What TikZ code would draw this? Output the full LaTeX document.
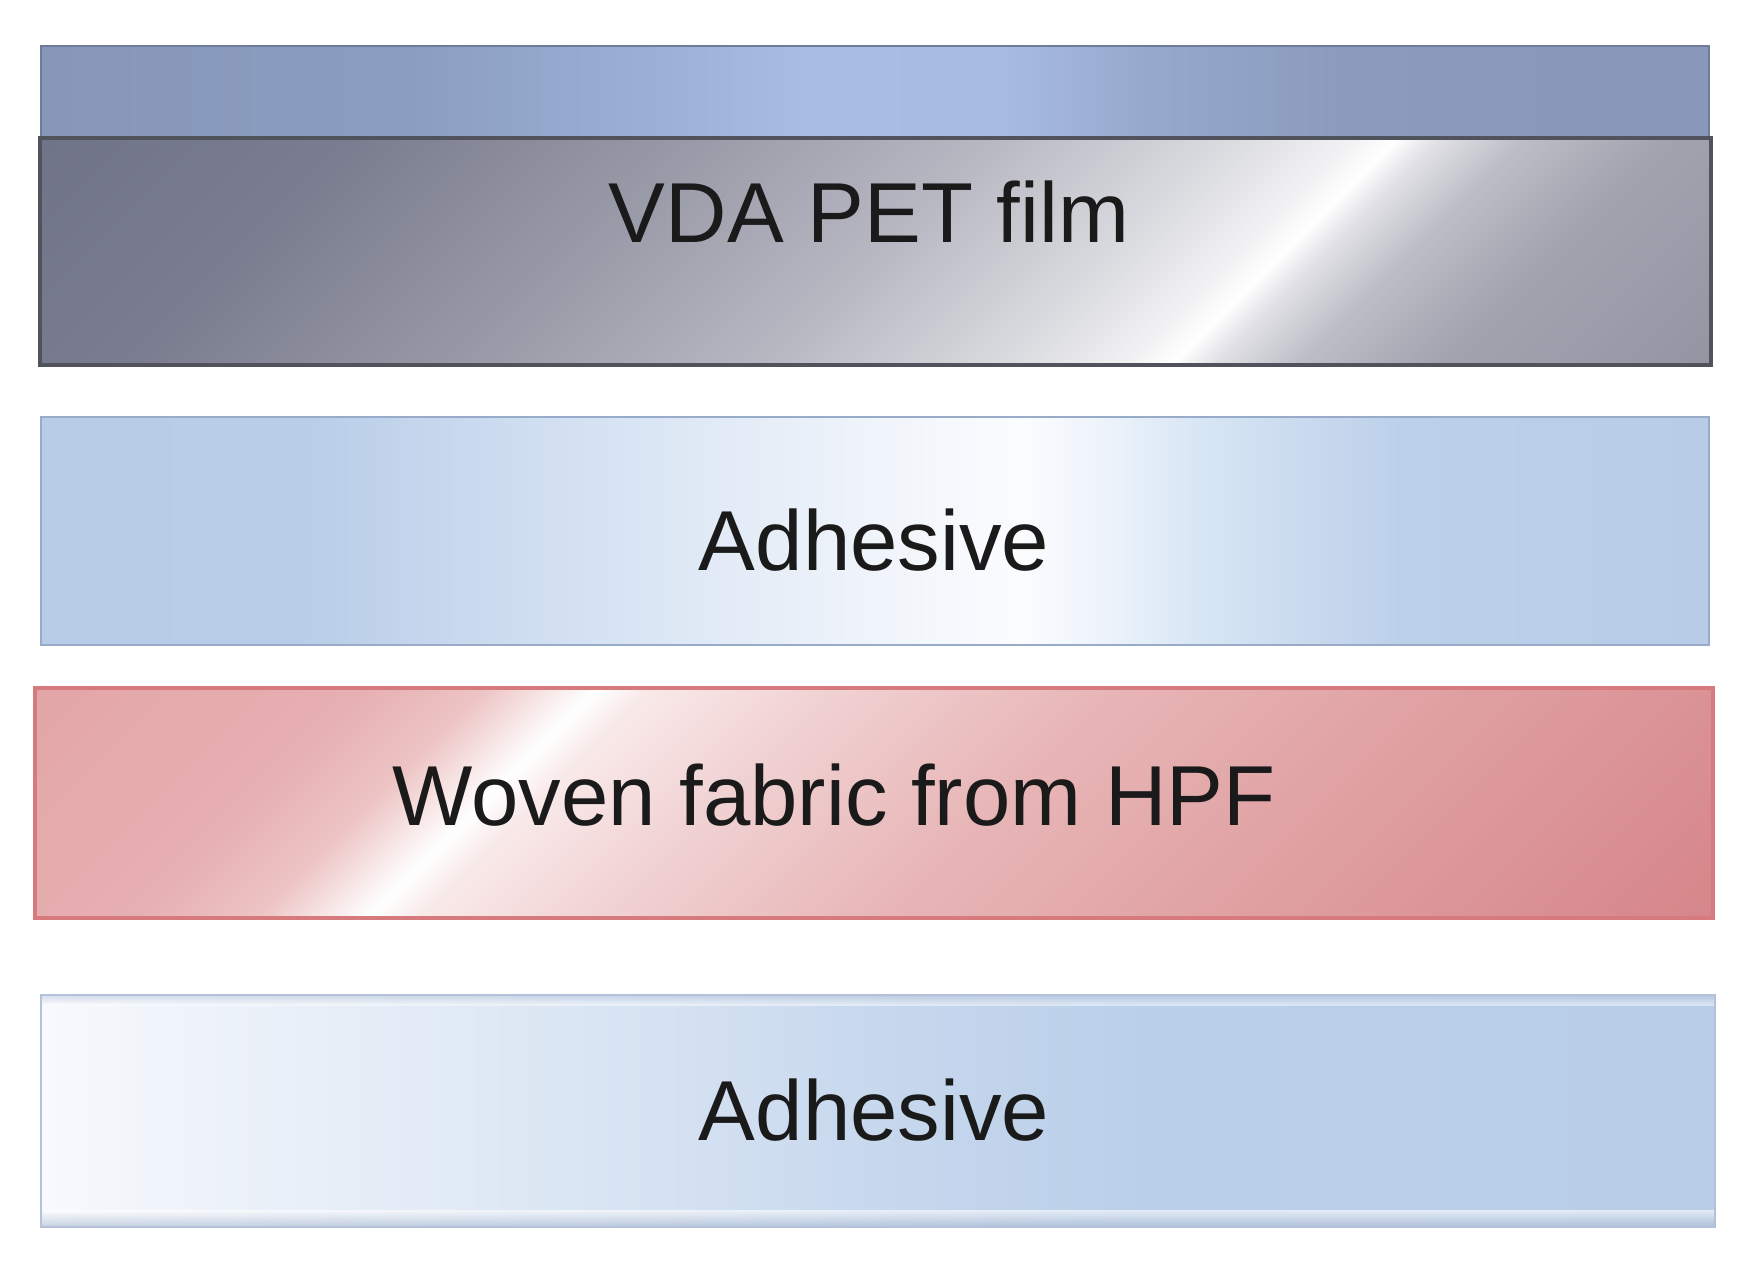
\documentclass[tikz,border=0pt]{standalone}
\usepackage{fontspec}
\setmainfont{Liberation Sans}
% film colours
\definecolor{fA}{HTML}{707488}
\definecolor{fB}{HTML}{7A7D8F}
\definecolor{fC}{HTML}{9A9BA8}
\definecolor{fD}{HTML}{B6B7C1}
\definecolor{fE}{HTML}{DCDDE1}
\definecolor{fF}{HTML}{F2F2F4}
\definecolor{fG}{HTML}{E0E0E6}
\definecolor{fH}{HTML}{BDBDC6}
\definecolor{fI}{HTML}{A3A3B0}
\definecolor{fJ}{HTML}{9494A3}
% band colours
\definecolor{bA}{HTML}{8797BA}
\definecolor{bB}{HTML}{8A9DC0}
\definecolor{bC}{HTML}{9BB0D6}
\definecolor{bD}{HTML}{A9BCE3}
\definecolor{bE}{HTML}{A8BBE2}
\definecolor{bF}{HTML}{96A8CC}
\definecolor{bG}{HTML}{8A9BBD}
\definecolor{bH}{HTML}{8898BA}
% adhesive colours
\definecolor{aA}{HTML}{B8CCE7}
\definecolor{aB}{HTML}{B9CDE8}
\definecolor{aC}{HTML}{D6E3F3}
\definecolor{aD}{HTML}{EEF3FA}
\definecolor{aE}{HTML}{FBFCFE}
\definecolor{aF}{HTML}{EEF4FB}
\definecolor{aG}{HTML}{D8E6F4}
\definecolor{aH}{HTML}{BDD0EA}
\definecolor{cA}{HTML}{F7F9FD}
\definecolor{cB}{HTML}{EEF3FA}
\definecolor{cC}{HTML}{D9E5F3}
\definecolor{cD}{HTML}{C6D7ED}
\definecolor{cE}{HTML}{BACFE9}
% fabric colours
\definecolor{rA}{HTML}{E3A6A8}
\definecolor{rB}{HTML}{E6AFB1}
\definecolor{rC}{HTML}{EDC3C4}
\definecolor{rD}{HTML}{FBF0F0}
\definecolor{rE}{HTML}{F9E9E9}
\definecolor{rF}{HTML}{F1D3D4}
\definecolor{rG}{HTML}{E8B6B7}
\definecolor{rH}{HTML}{DF9FA1}
\definecolor{rI}{HTML}{D6868A}
% borders and text
\definecolor{bandline}{HTML}{6E7C9A}
\definecolor{filmline}{HTML}{50535C}
\definecolor{adhline}{HTML}{98ABC8}
\definecolor{adhlineB}{HTML}{B3C2D9}
\definecolor{adhbot}{HTML}{A6B6D0}
\definecolor{fabline}{HTML}{D67A7D}
\definecolor{txt}{HTML}{1A1A1A}

\pgfdeclarehorizontalshading{filmshade}{100bp}{color(0bp)=(fA); color(29.9bp)=(fA); color(36.5bp)=(fB); color(44bp)=(fC); color(50bp)=(fD); color(55.4bp)=(fE); color(57.8bp)=(fF); color(58.7bp)=(white); color(59.6bp)=(fG); color(61.4bp)=(fH); color(64.4bp)=(fI); color(70.1bp)=(fJ); color(100bp)=(fJ)}
\pgfdeclarehorizontalshading{bandshade}{100bp}{color(0bp)=(bA); color(25bp)=(bA); color(35.8bp)=(bB); color(43.3bp)=(bC); color(47.8bp)=(bD); color(53.7bp)=(bE); color(58.2bp)=(bF); color(64.2bp)=(bG); color(75bp)=(bH); color(100bp)=(bH)}
\pgfdeclarehorizontalshading{adhAshade}{100bp}{color(0bp)=(aA); color(25bp)=(aA); color(32.8bp)=(aB); color(41.8bp)=(aC); color(49.3bp)=(aD); color(54.4bp)=(aE); color(56.7bp)=(aF); color(59.7bp)=(aG); color(65.7bp)=(aH); color(75bp)=(aA); color(100bp)=(aA)}
\pgfdeclarehorizontalshading{adhBshade}{100bp}{color(0bp)=(cA); color(25bp)=(cA); color(29.7bp)=(cB); color(41.7bp)=(cC); color(50.7bp)=(cD); color(58.1bp)=(cE); color(75bp)=(aB); color(100bp)=(aB)}
\pgfdeclarehorizontalshading{fabshade}{100bp}{color(0bp)=(rA); color(29.9bp)=(rA); color(36.6bp)=(rB); color(39.3bp)=(rC); color(41.1bp)=(rD); color(41.7bp)=(white); color(42.8bp)=(rE); color(46.4bp)=(rF); color(52.4bp)=(rG); color(60.4bp)=(rH); color(70.1bp)=(rI); color(100bp)=(rI)}

\tikzset{
  lbl/.style={font=\fontsize{24.2}{29}\selectfont, text=txt, anchor=base, inner sep=0pt},
}

\begin{document}
\begin{tikzpicture}[x=0.01cm, y=-0.01cm]
\useasboundingbox[fill=white] (0,0) rectangle (1752,1267);

% top blue band
\shade[shading=bandshade] (41,46) rectangle (1709,138);
\draw[bandline, line width=0.6pt] (41,46) rectangle (1709,138);

% VDA PET film (diagonal metallic gradient)
\begin{scope}
  \clip (40,138) rectangle (1711,365);
  \shade[shading=filmshade, shading angle=-45] (40,-584) rectangle (1711,1087);
\end{scope}
\draw[filmline, line width=1.1pt] (40,138) rectangle (1711,365);

% Adhesive 1
\shade[shading=adhAshade] (41,417) rectangle (1709,645);
\draw[adhline, line width=0.6pt] (41,417) rectangle (1709,645);

% Woven fabric (diagonal gradient)
\begin{scope}
  \clip (35,688) rectangle (1713,918);
  \shade[shading=fabshade, shading angle=-45] (35,-36) rectangle (1713,1642);
\end{scope}
\draw[fabline, line width=1.2pt] (35,688) rectangle (1713,918);

% Adhesive 2
\shade[shading=adhBshade] (41,995) rectangle (1715,1227);
\shade[top color=white, bottom color=adhbot, opacity=0.6] (41,1210) rectangle (1715,1227);
\shade[top color=adhlineB, bottom color=white, opacity=0.5] (41,995) rectangle (1715,1005);
\draw[adhlineB, line width=0.6pt] (41,995) rectangle (1715,1227);

% labels
\node[lbl] (film) at (869,243) {VDA PET film};
\node[lbl] (adhA) at (874,570) {Adhesive};
\node[lbl] (fab)  at (834,825) {Woven fabric from HPF};
\node[lbl] (adhB) at (874,1140) {Adhesive};
\end{tikzpicture}
\end{document}
